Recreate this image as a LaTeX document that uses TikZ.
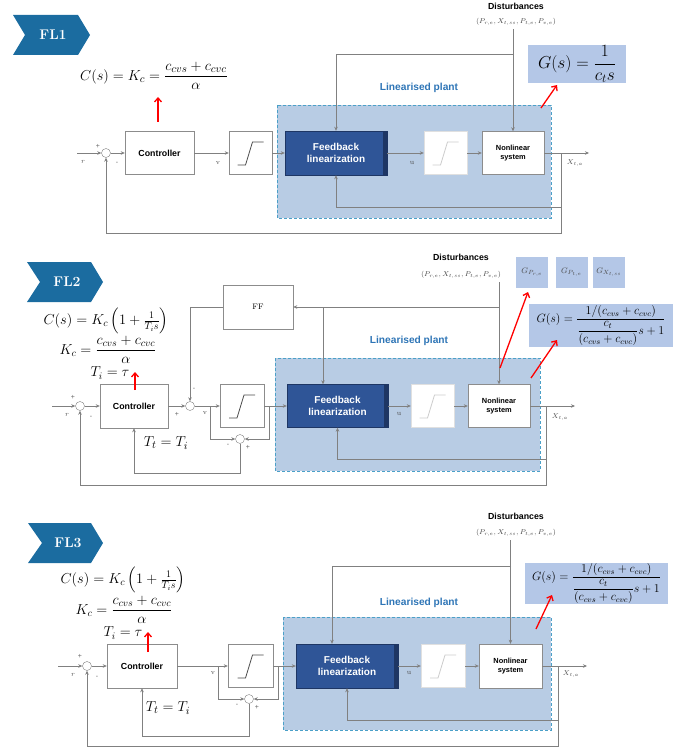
\documentclass[tikz,border=0pt]{standalone}
\usepackage{fontspec}
\setsansfont{Liberation Sans}
\usepackage{amsmath}
\usepackage{tikz}
\usetikzlibrary{arrows.meta, positioning}

\definecolor{bannerblue}{RGB}{27,108,160}
\definecolor{plantfill}{RGB}{184,204,228}
\definecolor{plantedge}{RGB}{75,160,200}
\definecolor{flblue}{RGB}{47,85,151}
\definecolor{fldark}{RGB}{30,54,100}
\definecolor{eqfill}{RGB}{180,199,231}
\definecolor{lptext}{RGB}{46,117,182}

\begin{document}
\begin{tikzpicture}[x=1pt, y=-1pt, >={Stealth[length=4pt,width=3.5pt]},
    wire/.style={draw=black!50, line width=0.6pt},
    blk/.style={draw=black!45, fill=white, inner sep=0, align=center, font=\sffamily\bfseries\fontsize{8.8}{10}\selectfont},
    nlin/.style={blk, font=\sffamily\bfseries\fontsize{7.4}{9}\selectfont},
    flin/.style={fill=flblue, draw=fldark, text=white, inner sep=0, align=center, font=\sffamily\bfseries\fontsize{10}{12}\selectfont,
        path picture={\fill[fldark] ([xshift=-4pt]path picture bounding box.north east) rectangle (path picture bounding box.south east);}},
    sumc/.style={circle, draw=black!50, fill=white, minimum size=9, inner sep=0},
    sat/.style={draw=black!45, fill=white, minimum width=43, minimum height=43, inner sep=0,
        path picture={\draw[#1, line width=0.8pt] ([shift={(-13pt,-12pt)}]path picture bounding box.center) -- ++(8pt,0pt) -- ++(7pt,23pt) -- ++(11pt,0pt);}},
    sat/.default=black!70,
    plant/.style={draw=plantedge, fill=plantfill, line width=0.8pt, dash pattern=on 3pt off 2pt},
    eqbox/.style={fill=eqfill, inner sep=0},
    tag/.style={text=white, font=\bfseries\fontsize{14}{16}\selectfont},
    pm/.style={text=black!60, font=\sffamily\fontsize{7}{8}\selectfont, inner sep=0},
    sig/.style={text=black!70, font=\fontsize{7}{8}\selectfont, inner sep=0},
    lp/.style={text=lptext, font=\sffamily\bfseries\fontsize{10.2}{12}\selectfont},
    dist/.style={font=\sffamily\bfseries\fontsize{8.8}{10}\selectfont},
    dtup/.style={text=black!75, font=\fontsize{6.8}{8}\selectfont},
    gsmall/.style={eqbox, minimum width=32, minimum height=31, text=black!70, font=\fontsize{8.5}{9}\selectfont},
    eq/.style={inner sep=0, font=\fontsize{14.5}{16}\selectfont},
    redarr/.style={red, line width=1.3pt, -{Straight Barb[length=4pt,width=7pt]}}]

\useasboundingbox (0,0) rectangle (687,749);

% ---------------- FL1 ----------------
\fill[bannerblue] (13,15) -- (78,15) -- (90,35) -- (78,55) -- (13,55) -- (25,35) -- cycle;
\node[tag] (tag1) at (53,35) {FL1};
\node[eq, font=\fontsize{15}{17}\selectfont] (cs1) at (154,76) {$C(s)=K_c=\dfrac{c_{cvs}+c_{cvc}}{\alpha}$};
\draw[plant] (277,105) rectangle (551,218);
\node[lp] (lp1) at (419,88) {Linearised plant};

\node[sumc] (s1) at (106,153) {};
\node[blk, minimum width=69, minimum height=43] (ctrl1) at (159.5,153) {Controller};
\node[sat] (sat1) at (250.5,153) {};
\node[flin, minimum width=102, minimum height=44] (fl1) at (336,153) {Feedback\\linearization};
\node[sat=black!20, draw=black!12] (sat1b) at (445.5,153) {};
\node[nlin, minimum width=62, minimum height=43] (nl1) at (513,153) {Nonlinear\\system};
\node[dist] (dist1) at (516,6) {Disturbances};
\node[dtup] (tup1) at (516,22) {$(P_{r,e}, X_{t,ss}, P_{t,e}, P_{v,e})$};
\node[eqbox, minimum width=98, minimum height=38] (gs1) at (577,64) {\fontsize{16.5}{18}\selectfont $G(s)=\dfrac{1}{c_t s}$};

\node[pm] (p1a) at (98,146) {+};
\node[pm] (p1b) at (117,163) {-};
\node[sig] (r1) at (83,162) {$r$};
\node[sig] (v1) at (218,163) {v};
\node[sig] (u1) at (412,163) {u};
\node[sig] (x1) at (575,163) {$X_{t,a}$};

\coordinate (in1) at (77,153);
\coordinate (out1) at (589,153);
\coordinate (br1) at (561,153);
\coordinate (fb1) at (561,207);
\coordinate (ob1) at (561,233);
\coordinate (dj1) at (513,54);
\coordinate (ra1) at (158,122);
\coordinate (rb1) at (158,97);
\coordinate (rc1) at (541,108);
\coordinate (rd1) at (557,85);

\draw[wire,->] (in1) -- (s1);
\draw[wire,->] (s1) -- (ctrl1);
\draw[wire,->] (ctrl1) -- (sat1);
\draw[wire,->] (sat1) -- (fl1);
\draw[wire,->] (fl1) -- (sat1b);
\draw[wire,->] (sat1b) -- (nl1);
\draw[wire,->] (nl1) -- (out1);
\draw[wire,->] (br1) -- (fb1) -| (fl1.south);
\draw[wire,->] (fb1) -- (ob1) -| (s1.south);
\draw[wire,->] (tup1.south -| nl1.north) -- (nl1.north);
\draw[wire,->] (dj1) -| (fl1.north);
\draw[redarr] (ra1) -- (rb1);
\draw[redarr] (rc1) -- (rd1);

% ---------------- FL2 ----------------
\fill[bannerblue] (27,262) -- (91,262) -- (103,282) -- (91,302) -- (27,302) -- (40,282) -- cycle;
\node[tag] (tag2) at (67,282) {FL2};
\node[eq] (cs2) at (106,321) {$C(s)=K_c\left(1+\frac{1}{T_i s}\right)$};
\node[eq] (kc2) at (108,350) {$K_c=\dfrac{c_{cvs}+c_{cvc}}{\alpha}$};
\node[eq] (ti2) at (110,373) {$T_i=\tau$};
\draw[plant] (275,358) rectangle (540,471);
\node[lp] (lp2) at (409,341) {Linearised plant};

\node[blk, minimum width=70, minimum height=44, font=\fontsize{8}{9}\selectfont] (ff2) at (258,307) {FF};
\node[sumc] (s21) at (80,406) {};
\node[blk, minimum width=68, minimum height=44] (ctrl2) at (134,406) {Controller};
\node[sumc] (s22) at (190,406) {};
\node[sat, minimum width=44] (sat2) at (242,406) {};
\node[sumc] (s23) at (240,439) {};
\node[flin, minimum width=101, minimum height=43] (fl2) at (337.5,406) {Feedback\\linearization};
\node[sat=black!20, draw=black!12] (sat2b) at (432.5,406) {};
\node[nlin, minimum width=62, minimum height=43] (nl2) at (499,406) {Nonlinear\\system};
\node[dist] (dist2) at (461,257) {Disturbances};
\node[dtup] (tup2) at (461,275) {$(P_{r,e}, X_{t,ss}, P_{t,e}, P_{v,e})$};
\node[gsmall] (gp2a) at (532,272.5) {$G_{P_{r,e}}$};
\node[gsmall] (gp2b) at (571.5,272.5) {$G_{P_{t,e}}$};
\node[gsmall] (gp2c) at (609,272.5) {$G_{X_{t,ss}}$};
\node[eqbox, minimum width=144, minimum height=43] (gs2) at (601,325.5) {\fontsize{11.8}{13}\selectfont $G(s)=\dfrac{1/(c_{cvs}+c_{cvc})}{\dfrac{c_t}{(c_{cvs}+c_{cvc})}s+1}$};
\node[eq, font=\fontsize{15.5}{17}\selectfont] (tt2) at (166,443) {$T_t=T_i$};

\node[pm] (p2a) at (73,397) {+};
\node[pm] (p2b) at (91,417) {-};
\node[sig] (r2) at (67,415) {$r$};
\node[pm] (p2c) at (194,389) {-};
\node[pm] (p2d) at (177,414) {+};
\node[sig] (v2) at (205,413) {v};
\node[pm] (p2e) at (228,445) {-};
\node[pm] (p2f) at (248,447) {+};
\node[sig] (u2) at (399,414) {u};
\node[sig] (x2) at (560,417) {$X_{t,a}$};

\coordinate (in2) at (52,406);
\coordinate (out2) at (575,406);
\coordinate (br2) at (546,406);
\coordinate (fb2) at (546,459);
\coordinate (ob2) at (546,485);
\coordinate (dj2) at (499,307);
\coordinate (dk2) at (323,307);
\coordinate (aw2) at (210,406);
\coordinate (at2) at (269,406);
\coordinate (tw2) at (240,473);
\coordinate (ra2) at (135,390);
\coordinate (rb2) at (135,372);
\coordinate (rc2) at (500,368);
\coordinate (rd2) at (528,292);
\coordinate (re2) at (531,378);
\coordinate (rf2) at (557,340);

\draw[wire,->] (in2) -- (s21);
\draw[wire,->] (s21) -- (ctrl2);
\draw[wire,->] (ctrl2) -- (s22);
\draw[wire,->] (s22) -- (sat2);
\draw[wire,->] (sat2) -- (fl2);
\draw[wire,->] (fl2) -- (sat2b);
\draw[wire,->] (sat2b) -- (nl2);
\draw[wire,->] (nl2) -- (out2);
\draw[wire,->] (br2) -- (fb2) -| (fl2.south);
\draw[wire,->] (fb2) -- (ob2) -| (s21.south);
\draw[wire,->] (aw2) |- (s23.west);
\draw[wire,->] (at2) |- (s23.east);
\draw[wire,->] (s23) -- (tw2) -| (ctrl2.south);
\draw[wire,->] (tup2.south -| nl2.north) -- (nl2.north);
\draw[wire,->] (dj2) -- (ff2.east);
\draw[wire,->] (dk2) -- (dk2 |- fl2.north);
\draw[wire,->] (ff2.west) -| (s22.north);
\draw[redarr] (ra2) -- (rb2);
\draw[redarr] (rc2) -- (rd2);
\draw[redarr] (re2) -- (rf2);

% ---------------- FL3 ----------------
\fill[bannerblue] (28,523) -- (91,523) -- (103,543) -- (91,563) -- (28,563) -- (42,543) -- cycle;
\node[tag] (tag3) at (68,543) {FL3};
\node[eq] (cs3) at (123,580) {$C(s)=K_c\left(1+\frac{1}{T_i s}\right)$};
\node[eq] (kc3) at (124,610) {$K_c=\dfrac{c_{cvs}+c_{cvc}}{\alpha}$};
\node[eq] (ti3) at (123,633) {$T_i=\tau$};
\draw[plant] (283,617) rectangle (551,730);
\node[lp] (lp3) at (419,603) {Linearised plant};

\node[sumc] (s31) at (87,666) {};
\node[blk, minimum width=70, minimum height=44] (ctrl3) at (142,666) {Controller};
\node[sat, minimum width=45] (sat3) at (250.5,666) {};
\node[sumc] (s33) at (249,699) {};
\node[flin, minimum width=102, minimum height=44] (fl3) at (347,666) {Feedback\\linearization};
\node[sat=black!20, draw=black!12, minimum width=44] (sat3b) at (443,666) {};
\node[nlin, minimum width=63, minimum height=44] (nl3) at (510.5,666) {Nonlinear\\system};
\node[dist] (dist3) at (516,516) {Disturbances};
\node[dtup] (tup3) at (516,533) {$(P_{r,e}, X_{t,ss}, P_{t,e}, P_{v,e})$};
\node[eqbox, minimum width=143, minimum height=41] (gs3) at (596.5,583.5) {\fontsize{11.8}{13}\selectfont $G(s)=\dfrac{1/(c_{cvs}+c_{cvc})}{\dfrac{c_t}{(c_{cvs}+c_{cvc})}s+1}$};
\node[eq, font=\fontsize{15.5}{17}\selectfont] (tt3) at (168,708) {$T_t=T_i$};

\node[pm] (p3a) at (80,656) {+};
\node[pm] (p3b) at (97,677) {-};
\node[sig] (r3) at (73,675) {$r$};
\node[sig] (v3) at (213,673) {v};
\node[pm] (p3c) at (237,705) {-};
\node[pm] (p3d) at (257,707) {+};
\node[sig] (u3) at (409,673) {u};
\node[sig] (x3) at (571,674) {$X_{t,a}$};

\coordinate (in3) at (58,666);
\coordinate (out3) at (587,666);
\coordinate (br3) at (558,666);
\coordinate (fb3) at (558,720);
\coordinate (ob3) at (558,746);
\coordinate (dj3) at (511,566);
\coordinate (dk3) at (332,566);
\coordinate (aw3) at (218,666);
\coordinate (at3) at (278,666);
\coordinate (tw3) at (249,736);
\coordinate (ra3) at (148,652);
\coordinate (rb3) at (148,632);
\coordinate (rc3) at (536,629);
\coordinate (rd3) at (552,595);

\draw[wire,->] (in3) -- (s31);
\draw[wire,->] (s31) -- (ctrl3);
\draw[wire,->] (ctrl3) -- (sat3);
\draw[wire,->] (sat3) -- (fl3);
\draw[wire,->] (fl3) -- (sat3b);
\draw[wire,->] (sat3b) -- (nl3);
\draw[wire,->] (nl3) -- (out3);
\draw[wire,->] (br3) -- (fb3) -| (fl3.south);
\draw[wire,->] (fb3) -- (ob3) -| (s31.south);
\draw[wire,->] (aw3) |- (s33.west);
\draw[wire,->] (at3) |- (s33.east);
\draw[wire,->] (s33) -- (tw3) -| (ctrl3.south);
\draw[wire,->] (tup3.south -| nl3.north) -- (nl3.north);
\draw[wire] (dj3) -- (dk3);
\draw[wire,->] (dk3) -- (dk3 |- fl3.north);
\draw[redarr] (ra3) -- (rb3);
\draw[redarr] (rc3) -- (rd3);
\end{tikzpicture}
\end{document}
